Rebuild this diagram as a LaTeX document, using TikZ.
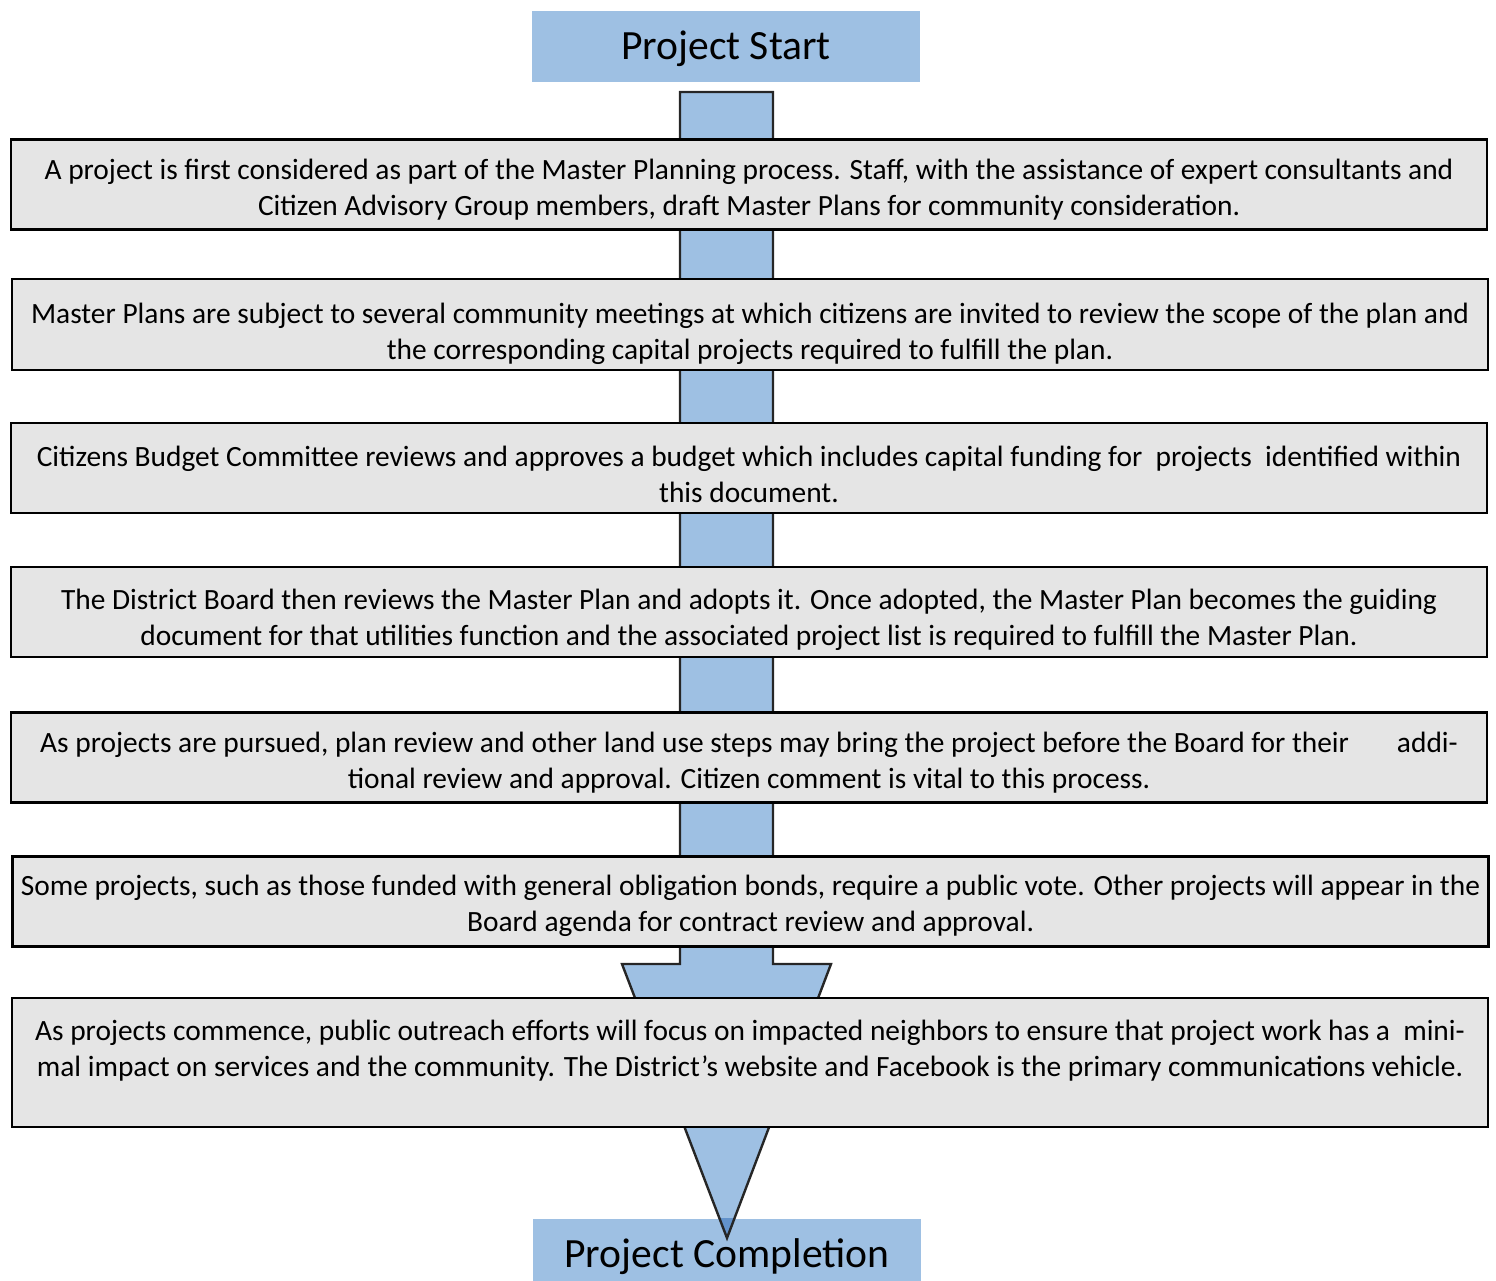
\documentclass[tikz,border=0pt]{standalone}
\usepackage{fontspec}
\setmainfont{Carlito}
\usepackage{tikz}

\definecolor{flowblue}{RGB}{158,192,227}
\definecolor{flowdark}{RGB}{98,146,203}
\definecolor{boxgray}{RGB}{229,229,229}

% invisible strut that pushes the text of a step box down
\newcommand{\topgap}[1]{\rule{0pt}{#1}}

\begin{document}
\begin{tikzpicture}[x=0.5pt,y=-0.5pt,
  endbox/.style={fill=flowblue,minimum width=194pt,minimum height=35.5pt,inner sep=0pt,font=\fontsize{20.8}{24}\selectfont},
  stepbox/.style={draw=black,line width=1.4pt,fill=boxgray,minimum width=738pt,minimum height=45pt,inner sep=0pt,align=center,font=\fontsize{14.7}{18}\selectfont},
  arrowline/.style={draw=black!85,line width=1.2pt,line join=miter}]
\useasboundingbox (0,0) rectangle (1496,1281);

\node[endbox,text height=16pt,text depth=3pt] (start) at (726,46.5) {Project Start};
\node[endbox,minimum height=31pt,text height=17.4pt,text depth=0pt] (finish) at (727,1250) {Project Completion};

% big arrow behind the boxes
\coordinate (shafttop) at (726.5,92);
\coordinate (tip) at (727,1238);
\fill[flowblue] (shafttop) ++(-46.5,0) -- ++(93,0) -- ++(0,872) -- ++(58,0) -- (tip) -- (622,964) -- ++(58,0) -- cycle;
\begin{scope}
\clip (finish.north west) rectangle (finish.south east);
\fill[flowdark] (622,964) -- (831,964) -- (tip) -- cycle;
\end{scope}
\draw[arrowline] (shafttop) ++(-46.5,0) -- ++(93,0) -- ++(0,872) -- ++(58,0) -- (tip) -- (622,964) -- ++(58,0) -- cycle;

\node[stepbox] (s1) at (749,184.5) {\topgap{15pt}A project is first considered as part of the Master Planning process. Staff, with the assistance of expert consultants and\\Citizen Advisory Group members, draft Master Plans for community consideration.};
\node[stepbox,minimum height=45.5pt] (s2) at (750,324.5) {\topgap{20pt}Master Plans are subject to several community meetings at which citizens are invited to review the scope of the plan and\\the corresponding capital projects required to fulfill the plan.};
\node[stepbox] (s3) at (749,468) {\topgap{17pt}Citizens Budget Committee reviews and approves a budget which includes capital funding for~ projects~ identified within\\this document.};
\node[stepbox] (s4) at (749,612) {\topgap{18pt}The District Board then reviews the Master Plan and adopts it. Once adopted, the Master Plan becomes the guiding\\document for that utilities function and the associated project list is required to fulfill the Master Plan.};
\node[stepbox] (s5) at (749,757.5) {\topgap{15pt}As projects are pursued, plan review and other land use steps may bring the project before the Board for their\hspace{24pt}addi-\\tional review and approval. Citizen comment is vital to this process.};
\node[stepbox] (s6) at (750.5,901.5) {\topgap{15pt}Some projects, such as those funded with general obligation bonds, require a public vote. Other projects will appear in the\\Board agenda for contract review and approval.};
\node[stepbox,minimum height=64.5pt] (s7) at (750,1062.5) {\topgap{14pt}As projects commence, public outreach efforts will focus on impacted neighbors to ensure that project work has a~ mini-\\mal impact on services and the community. The District's website and Facebook is the primary communications vehicle.\\~};
\end{tikzpicture}
\end{document}
